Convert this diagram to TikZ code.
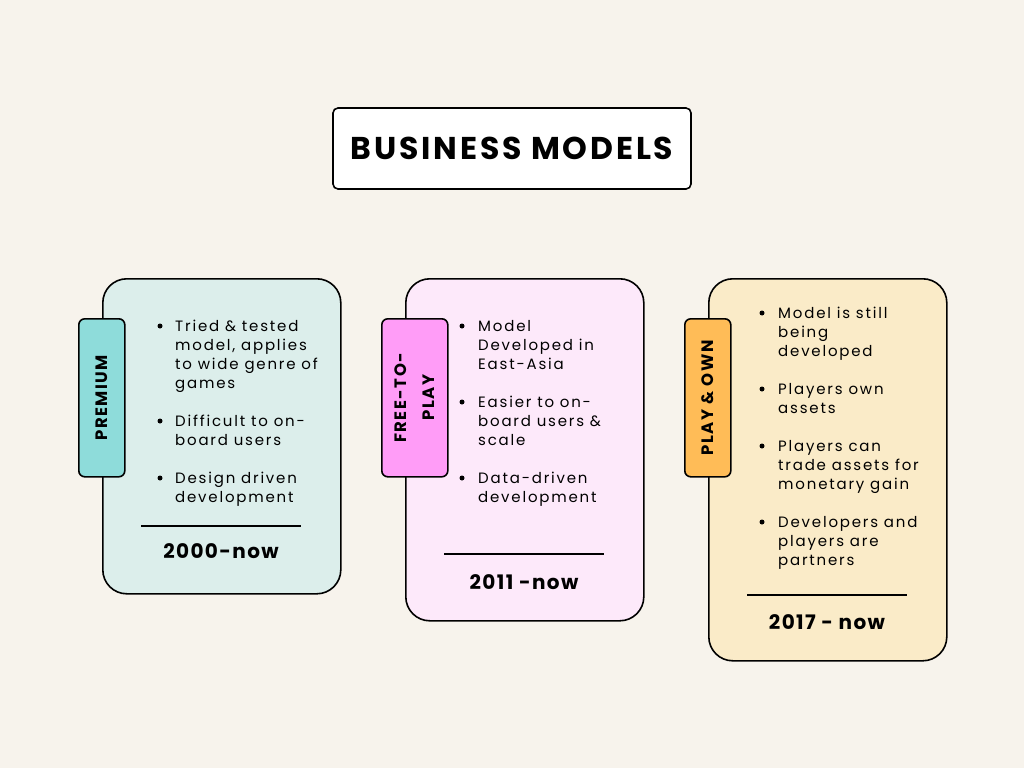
\documentclass[tikz,border=0pt]{standalone}
\usepackage{fontspec}
\setmainfont{Poppins}[LetterSpace=12]
\newfontfamily\headfont{Poppins}[LetterSpace=9,UprightFont=* SemiBold,BoldFont=* Bold]
\newfontfamily\yearfont{Poppins}[LetterSpace=7,UprightFont=* SemiBold,BoldFont=* Bold]
\definecolor{bg}{HTML}{F7F3EC}
\definecolor{cardA}{HTML}{DCEEEB}
\definecolor{tabA}{HTML}{8EDCDA}
\definecolor{cardB}{HTML}{FDE9FA}
\definecolor{tabB}{HTML}{FF9CF7}
\definecolor{cardC}{HTML}{FAEBC8}
\definecolor{tabC}{HTML}{FFBC57}
\begin{document}
\begin{tikzpicture}[x=1pt,y=-1pt,
  card/.style={draw=black,line width=1.6pt,rounded corners=24pt,minimum width=238pt,anchor=north west,inner sep=0pt},
  tabbox/.style={draw=black,line width=1.6pt,rounded corners=6pt,minimum height=158pt,anchor=north west,inner sep=0pt},
  tabtxt/.style={rotate=90,font=\headfont\bfseries\fontsize{16.5}{28}\selectfont,align=center,inner sep=0pt},
  bul/.style={anchor=north west,align=left,inner sep=0pt,font=\fontsize{15}{19}\selectfont},
  dot/.style={circle,fill=black,inner sep=0pt,minimum size=5pt},
  yr/.style={font=\yearfont\bfseries\fontsize{20}{22}\selectfont,inner sep=0pt},
  rule/.style={line width=1.5pt}]
\fill[bg] (0,0) rectangle (1024,768);
\useasboundingbox (0,0) rectangle (1024,768);
% title
\node[draw=black,line width=1.6pt,rounded corners=5pt,fill=white,minimum width=358pt,minimum height=81pt,inner sep=0pt] (title) at (512,148.5) {\headfont\bfseries\fontsize{31.5}{33}\selectfont BUSINESS MODELS};
% cards
\node[card,fill=cardA,minimum height=315pt] (c1) at (102,278) {};
\node[card,fill=cardB,minimum height=342pt] (c2) at (405,278) {};
\node[card,fill=cardC,minimum height=382pt] (c3) at (708,278) {};
% tabs
\node[tabbox,fill=tabA,minimum width=46pt] (t1) at (78,318) {};
\node[tabbox,fill=tabB,minimum width=66pt] (t2) at (381,318) {};
\node[tabbox,fill=tabC,minimum width=46pt] (t3) at (684,318) {};
\node[tabtxt] (t1l) at (t1.center) {PREMIUM};
\node[tabtxt] (t2l) at (t2.center) {FREE-TO-\\PLAY};
\node[tabtxt] (t3l) at (t3.center) {PLAY \& OWN};
% card 1 bullets
\node[bul] (a1) at (175,320) {Tried \& tested\\model, applies\\to wide genre of\\games};
\node[bul] (a2) at (175,415) {Difficult to on-\\board users};
\node[bul] (a3) at (175,472) {Design driven\\development};
\node[dot] at (160,326) {};
\node[dot] at (160,421) {};
\node[dot] at (160,478) {};
\coordinate (a4l) at (141,526); \coordinate (a4r) at (301,526);
\draw[rule] (a4l) -- (a4r);
\node[yr] (y1) at (221,551) {2000-now};
% card 2 bullets
\node[bul] (b1) at (478,320) {Model\\Developed in\\East-Asia};
\node[bul] (b2) at (478,396) {Easier to on-\\board users \&\\scale};
\node[bul] (b3) at (478,472) {Data-driven\\development};
\node[dot] at (462,326) {};
\node[dot] at (462,402) {};
\node[dot] at (462,478) {};
\coordinate (b4l) at (444,554); \coordinate (b4r) at (604,554);
\draw[rule] (b4l) -- (b4r);
\node[yr] (y2) at (524,582) {2011 -now};
% card 3 bullets
\node[bul] (d1) at (778,307) {Model is still\\being\\developed};
\node[bul] (d2) at (778,383) {Players own\\assets};
\node[bul] (d3) at (778,440) {Players can\\trade assets for\\monetary gain};
\node[bul] (d4) at (778,516) {Developers and\\players are\\partners};
\node[dot] at (762,313) {};
\node[dot] at (762,389) {};
\node[dot] at (762,446) {};
\node[dot] at (762,522) {};
\coordinate (d5l) at (747,595); \coordinate (d5r) at (907,595);
\draw[rule] (d5l) -- (d5r);
\node[yr] (y3) at (827,622) {2017 - now};
\end{tikzpicture}
\end{document}
